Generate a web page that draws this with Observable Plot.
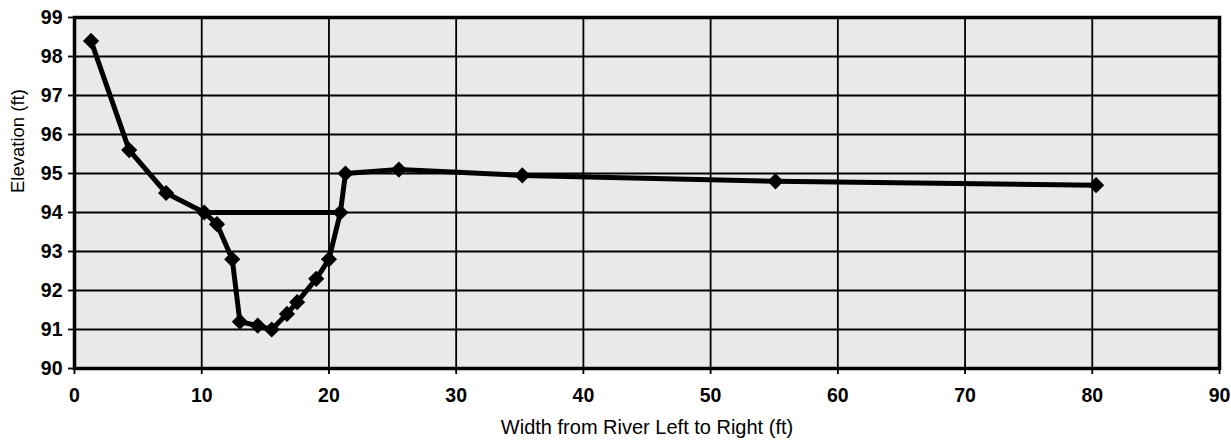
<!DOCTYPE html>
<html><head><meta charset="utf-8">
<script src="https://cdn.jsdelivr.net/npm/d3@7"></script>
<script src="https://cdn.jsdelivr.net/npm/@observablehq/plot@0.6"></script>
<style>body{margin:0;background:#fff} svg{display:block}</style>
</head><body><div id="chart"></div>
<script>
// Cross-section profile (width from left bank, elevation)
const widths     = [1.3, 4.3, 7.2, 10.2, 11.2, 12.4, 13.0, 14.4, 15.5, 16.7, 17.5, 19.0, 20.0, 20.9, 21.3, 25.5, 35.2, 55.1, 80.3];
const elevations = [98.4, 95.6, 94.5, 94.0, 93.7, 92.8, 91.2, 91.1, 91.0, 91.4, 91.7, 92.3, 92.8, 94.0, 95.0, 95.1, 94.95, 94.8, 94.7];
// Water surface line
const waterWidths = [10.2, 20.9];
const waterElev   = [94.0, 94.0];
// Axes
const xTicks = [0, 10, 20, 30, 40, 50, 60, 70, 80, 90];
const yTicks = [90, 91, 92, 93, 94, 95, 96, 97, 98, 99];
const xTitle = "Width from River Left to Right (ft)";
const yTitle = "Elevation (ft)";

const profile = widths.map((w, i) => ({w, e: elevations[i]}));
const water = waterWidths.map((w, i) => ({w, e: waterElev[i]}));

const chart = Plot.plot({
  width: 1231, height: 445,
  marginLeft: 74, marginRight: 12, marginTop: 17, marginBottom: 77,
  style: {fontFamily: "'Liberation Sans', Arial, sans-serif", background: "#fff", color: "#000"},
  x: {domain: [0, 90]},
  y: {domain: [90, 99]},
  marks: [
    Plot.frame({fill: "#e9e9e9"}),
    Plot.gridX(xTicks, {stroke: "#000", strokeOpacity: 1, strokeWidth: 1.8}),
    Plot.gridY(yTicks, {stroke: "#000", strokeOpacity: 1, strokeWidth: 1.8}),
    Plot.frame({stroke: "#000", strokeWidth: 3.5}),
    Plot.axisX(xTicks, {tickSize: 6, tickPadding: 14, fontSize: 19.5, fontWeight: "bold", label: null, strokeWidth: 1.8}),
    Plot.axisY(yTicks, {tickSize: 6, tickPadding: 6, fontSize: 19.5, fontWeight: "bold", label: null, strokeWidth: 1.8}),
    Plot.line(water, {x: "w", y: "e", stroke: "#000", strokeWidth: 5}),
    Plot.line(profile, {x: "w", y: "e", stroke: "#000", strokeWidth: 5, strokeLinejoin: "round"}),
    Plot.dot(profile, {x: "w", y: "e", symbol: "diamond2", r: 7.3, fill: "#000", stroke: "none"}),
    Plot.text([xTitle], {frameAnchor: "bottom", dy: 65, fontSize: 20, fill: "#000"}),
    Plot.text([yTitle], {frameAnchor: "left", dx: -56, rotate: -90, fontSize: 18.5, fill: "#000"})
  ]
});
document.getElementById("chart").append(chart);
</script>
</body></html>
